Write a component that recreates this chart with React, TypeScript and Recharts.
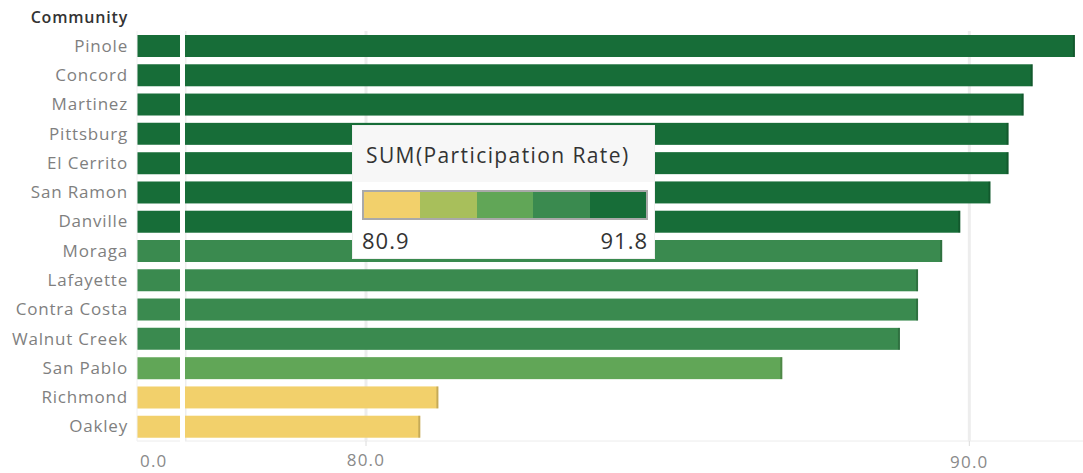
import { Bar, BarChart, CartesianGrid, Cell, XAxis, YAxis } from "recharts";

const communities = [
  "Pinole",
  "Concord",
  "Martinez",
  "Pittsburg",
  "El Cerrito",
  "San Ramon",
  "Danville",
  "Moraga",
  "Lafayette",
  "Contra Costa",
  "Walnut Creek",
  "San Pablo",
  "Richmond",
  "Oakley",
];
const rates = [91.75, 91.05, 90.9, 90.65, 90.65, 90.35, 89.85, 89.55, 89.15, 89.15, 88.85, 86.9, 81.2, 80.9];
const valueTicks = [80, 90];
const legendMin = 80.9;
const legendMax = 91.8;
const rampColors = ["#f2d06b", "#a8bf5b", "#61a657", "#3a8a4f", "#176d38"];

const data = communities.map((name, i) => ({ name, rate: rates[i] }));

const FONT = "'Open Sans', sans-serif";

function colorFor(v: number) {
  const step = (legendMax - legendMin) / rampColors.length;
  const idx = Math.floor((v - legendMin) / step);
  return rampColors[Math.min(rampColors.length - 1, Math.max(0, idx))];
}

// tableau-ish bar: flat fill with a slightly darker end cap
function EdgeBar(props: any) {
  const { x, y, width, height, fill } = props;
  if (!width || width <= 0) return null;
  return (
    <g>
      <rect x={x} y={y} width={width} height={height} fill={fill} />
      <rect x={x + width - 2} y={y} width={2} height={height} fill="rgba(0,0,0,0.18)" />
    </g>
  );
}

function ValueTick({ x, y, payload }: any) {
  const drop = payload.value === 90 ? 2 : 0;
  return (
    <text
      x={x}
      y={y + 18 + drop}
      textAnchor="middle"
      fill="#8a8a8a"
      fontSize={17}
      letterSpacing={1.2}
      fontFamily={FONT}
    >
      {Number(payload.value).toFixed(1)}
    </text>
  );
}

function ZeroTick({ x, y }: any) {
  return (
    <text
      x={x + 3}
      y={y + 18}
      textAnchor="start"
      fill="#8a8a8a"
      fontSize={17}
      letterSpacing={1.2}
      fontFamily={FONT}
    >
      0.0
    </text>
  );
}

function Legend() {
  return (
    <div
      style={{
        position: "absolute",
        left: 353,
        top: 126,
        width: 301,
        height: 132,
        background: "#fff",
        fontFamily: FONT,
        boxShadow: "0 0 0 1px #f0f0f0",
      }}
    >
      <div
        style={{
          height: 56,
          background: "#f7f7f7",
          color: "#333",
          fontSize: 21,
          letterSpacing: 1.4,
          lineHeight: "58px",
          paddingLeft: 13,
          whiteSpace: "nowrap",
        }}
      >
        SUM(Participation Rate)
      </div>
      <div
        style={{
          position: "absolute",
          left: 9,
          top: 64,
          width: 286,
          height: 30,
          boxSizing: "border-box",
          border: "2px solid #a9a9a9",
          display: "flex",
        }}
      >
        {rampColors.map((c) => (
          <div key={c} style={{ flex: 1, background: c }} />
        ))}
      </div>
      <div
        style={{ position: "absolute", left: 9, top: 99, fontSize: 22, letterSpacing: 1, color: "#333" }}
      >
        {legendMin.toFixed(1)}
      </div>
      <div
        style={{ position: "absolute", right: 6, top: 99, fontSize: 22, letterSpacing: 1, color: "#333" }}
      >
        {legendMax.toFixed(1)}
      </div>
    </div>
  );
}

export default function App() {
  return (
    <div
      style={{
        position: "absolute",
        left: 0,
        top: 0,
        width: 1083,
        height: 473,
        overflow: "hidden",
        background: "#fff",
      }}
    >
      <div
        style={{
          position: "absolute",
          left: 0,
          top: 6,
          width: 128,
          textAlign: "right",
          fontFamily: FONT,
          fontWeight: 600,
          fontSize: 16,
          letterSpacing: 0.8,
          color: "#333",
        }}
      >
        Community
      </div>

      {/* left stub of the broken axis: 0 .. break */}
      <div style={{ position: "absolute", left: 0, top: 0 }}>
        <BarChart
          width={180}
          height={473}
          data={data}
          layout="vertical"
          margin={{ top: 31, right: 0, bottom: 0, left: 0 }}
        >
          <XAxis
            type="number"
            domain={[0, 10]}
            ticks={[0]}
            allowDataOverflow
            height={32}
            axisLine={{ stroke: "#ececec" }}
            tickLine={false}
            tick={<ZeroTick />}
          />
          <YAxis
            type="category"
            dataKey="name"
            width={137}
            tickLine={false}
            tickMargin={3}
            axisLine={{ stroke: "#f0f0f0" }}
            interval={0}
            tick={{ fill: "#7f7f7f", fontSize: 17, fontFamily: FONT, letterSpacing: 0.8 }}
          />
          <Bar dataKey="rate" barSize={22} isAnimationActive={false}>
            {data.map((d) => (
              <Cell key={d.name} fill={colorFor(d.rate)} />
            ))}
          </Bar>
        </BarChart>
      </div>

      {/* main segment of the axis */}
      <div style={{ position: "absolute", left: 185, top: 0 }}>
        <BarChart
          width={905}
          height={473}
          data={data}
          layout="vertical"
          margin={{ top: 31, right: 0, bottom: 0, left: 0 }}
        >
          <CartesianGrid horizontal={false} stroke="#ededed" strokeWidth={3} />
          <XAxis
            type="number"
            domain={[77, 92]}
            ticks={valueTicks}
            allowDataOverflow
            height={32}
            axisLine={{ stroke: "#ececec" }}
            tickLine={{ stroke: "#dcdcdc" }}
            tickSize={5}
            tick={<ValueTick />}
          />
          <YAxis type="category" dataKey="name" hide />
          <Bar dataKey="rate" barSize={22} shape={<EdgeBar />} isAnimationActive={false}>
            {data.map((d) => (
              <Cell key={d.name} fill={colorFor(d.rate)} />
            ))}
          </Bar>
        </BarChart>
      </div>

      <Legend />
    </div>
  );
}
